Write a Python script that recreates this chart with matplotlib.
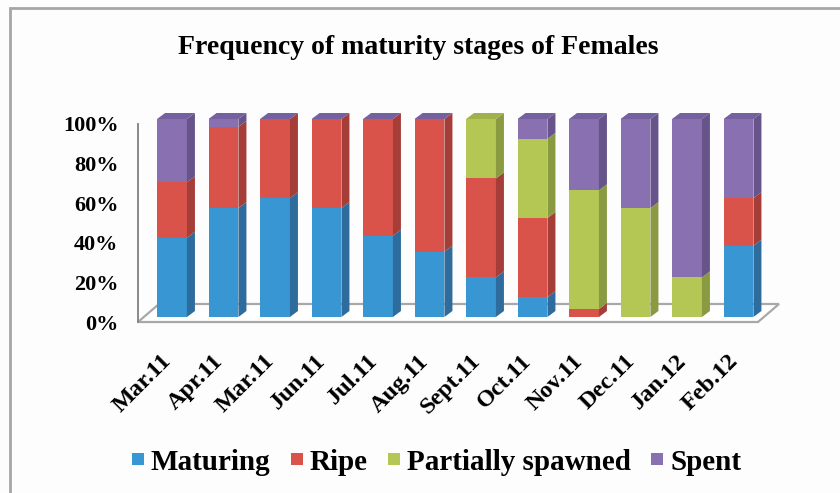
import matplotlib
matplotlib.use("Agg")
import matplotlib.pyplot as plt
from matplotlib.patches import Polygon, Rectangle
from matplotlib.lines import Line2D
from matplotlib.transforms import ScaledTranslation
import numpy as np

months = ["Mar.11", "Apr.11", "Mar.11", "Jun.11", "Jul.11", "Aug.11",
          "Sept.11", "Oct.11", "Nov.11", "Dec.11", "Jan.12", "Feb.12"]
stages = ["Maturing", "Ripe", "Partially spawned", "Spent"]
maturing = [40, 55, 60, 55, 41, 33, 20, 10, 0, 0, 0, 36]
ripe = [28, 41, 40, 45, 59, 67, 50, 40, 4, 0, 0, 24]
partially_spawned = [0, 0, 0, 0, 0, 0, 30, 40, 60, 55, 20, 0]
spent = [32, 4, 0, 0, 0, 0, np.nan, 10, 36, 45, 80, 40]

FRONT = ["#3896D2", "#DA534B", "#B4C654", "#8970B0"]
SIDE = ["#2D6C9C", "#A53E39", "#8A9A41", "#67548A"]
TOP = ["#3180B5", "#C04843", "#A0B04A", "#7560A0"]
SERIF = "Liberation Serif"

W, H = 840, 493
fig = plt.figure(figsize=(W / 100, H / 100), dpi=100, facecolor="#fdfdfd")

# outer chart frame (runs off the right/bottom edge like the screenshot)
fig.patches.append(Rectangle((10 / W, -0.1), 1.2, 1 - 8 / H + 0.1,
                             transform=fig.transFigure, fill=False,
                             edgecolor="#a6a6a6", linewidth=2))

left_px, right_px, bot_px, top_px = 138, 758, 322, 124
ax = fig.add_axes([left_px / W, 1 - bot_px / H, (right_px - left_px) / W,
                   (bot_px - top_px) / H])
ax.set_facecolor("none")

step_px = 51.5
x0 = -(172 - left_px) / step_px
x1 = x0 + (right_px - left_px) / step_px
ax.set_xlim(x0, x1)
ax.set_ylim(0, 100)
px_x = step_px
px_y = (bot_px - top_px) / 100

# floor slab
fdx, fdy = 21 / px_x, 18 / px_y
floor = Polygon([(x0, 0), (x1, 0), (x1 + fdx, fdy), (x0 + fdx, fdy)],
                closed=True, facecolor="#ffffff", edgecolor="#a8a8a8",
                linewidth=1.6, clip_on=False, zorder=1)
ax.add_patch(floor)

# bars sit a little behind the front edge of the floor
bar_tr = ax.transData + ScaledTranslation(0, 5 / 100, fig.dpi_scale_trans)
dx, dy = 8 / px_x, 6 / px_y
half = 0.29
series = [maturing, ripe, partially_spawned, spent]
x = np.arange(len(months))

for i in range(len(months)):
    bottom = 0.0
    top_color = None
    for s, vals in enumerate(series):
        v = vals[i]
        if np.isnan(v):
            continue
        top_color = TOP[s]
        if v <= 0:
            continue
        ax.bar(x[i], v, width=2 * half, bottom=bottom, color=FRONT[s],
               linewidth=0, transform=bar_tr, clip_on=False, zorder=3)
        side = Polygon([(x[i] + half, bottom), (x[i] + half, bottom + v),
                        (x[i] + half + dx, bottom + v + dy),
                        (x[i] + half + dx, bottom + dy)],
                       closed=True, facecolor=SIDE[s], linewidth=0,
                       transform=bar_tr, clip_on=False, zorder=3)
        ax.add_patch(side)
        bottom += v
    top = Polygon([(x[i] - half, bottom), (x[i] + half, bottom),
                   (x[i] + half + dx, bottom + dy),
                   (x[i] - half + dx, bottom + dy)],
                  closed=True, facecolor=top_color, linewidth=0,
                  transform=bar_tr, clip_on=False, zorder=3)
    ax.add_patch(top)

for sp in ["top", "right", "bottom"]:
    ax.spines[sp].set_visible(False)
ax.spines["left"].set_color("#7f7f7f")
ax.spines["left"].set_linewidth(1.3)

ax.set_yticks([0, 20, 40, 60, 80, 100])
ax.set_yticklabels([f"{t}%" for t in range(0, 101, 20)],
                   fontfamily=SERIF, fontweight="bold", fontsize=16)
ax.tick_params(axis="y", length=0, pad=14)

ax.set_xticks(x)
ax.set_xticklabels(months, rotation=45, ha="right", va="center",
                   rotation_mode="anchor", fontfamily=SERIF,
                   fontweight="bold", fontsize=17.5)
ax.tick_params(axis="x", length=0, pad=26)
for lab in ax.get_xticklabels():
    lab.set_transform(lab.get_transform() +
                      ScaledTranslation(-4 / 100, 0, fig.dpi_scale_trans))

fig.text(0.498, 1 - 47 / H, "Frequency of maturity stages of Females",
         ha="center", va="center", fontfamily=SERIF, fontweight="bold",
         fontsize=20)

handles = [Line2D([], [], marker="s", linestyle="none", markersize=8,
                  markerfacecolor=c, markeredgewidth=0) for c in FRONT]
fig.legend(handles, stages, loc="center", bbox_to_anchor=(0.518, 1 - 462 / H),
           ncol=4, frameon=False, handlelength=0.6, handletextpad=0.15,
           columnspacing=0.6,
           prop={"family": SERIF, "weight": "bold", "size": 21})

fig.savefig("out.png", dpi=100, facecolor=fig.get_facecolor())
